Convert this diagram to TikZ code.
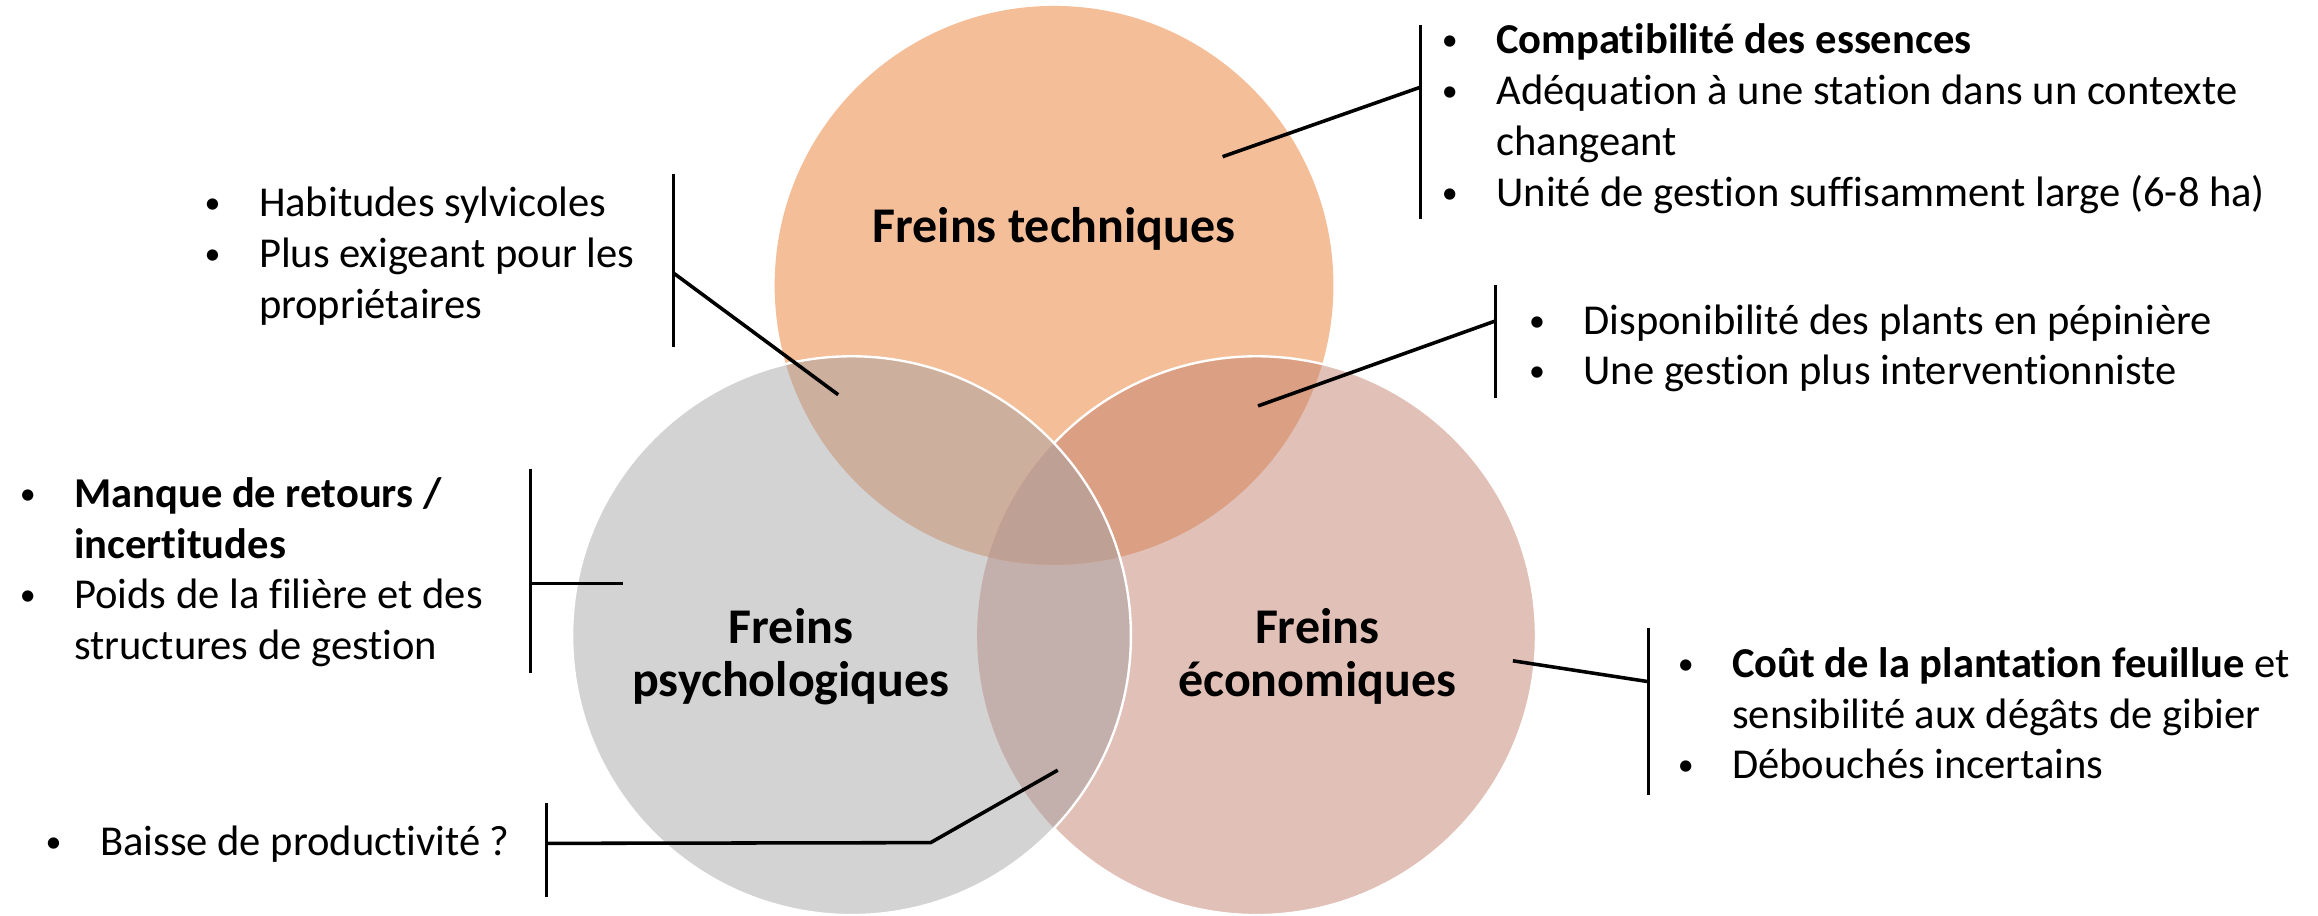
\documentclass[tikz,border=0pt]{standalone}
\usepackage{graphicx}
\usepackage{fontspec}
\setmainfont{Carlito}[Ligatures=NoCommon]
\definecolor{techfill}{HTML}{F4BE98}
\definecolor{psyfill}{HTML}{D3D3D3}
\definecolor{ecofill}{HTML}{E1C0B7}
\definecolor{tpfill}{HTML}{CDAF9E}
\definecolor{tefill}{HTML}{DB9F83}
\definecolor{pefill}{HTML}{C3AFAB}
\definecolor{tpefill}{HTML}{BFA095}
\newcommand{\itm}{\makebox[18.4pt][l]{\raisebox{1pt}{\scalebox{0.75}{\textbullet}}}}
\begin{document}
\begin{tikzpicture}[x=0.5pt, y=-0.5pt,
    disc/.style={circle, minimum size=189pt, inner sep=0pt},
    title/.style={font=\fontsize{16.9}{18}\selectfont\bfseries, align=center, inner sep=0pt},
    items/.style={font=\fontsize{14.4}{17.2}\selectfont, inner sep=0pt, anchor=north west},
    bar/.style={line width=1pt},
    link/.style={line width=1.2pt}]
    \useasboundingbox (0,0) rectangle (1568,619);

    % --- The three discs ---
    \node[disc, fill=techfill] (tech) at (713,193) {};
    \node[disc, fill=psyfill] (psy) at (576,430) {};
    \node[disc, fill=ecofill] (eco) at (850,430) {};

    % --- Overlaps ---
    \begin{scope}
        \clip (psy.center) circle (189);
        \fill[pefill] (eco.center) circle (189);
    \end{scope}
    \begin{scope}
        \clip (tech.center) circle (189);
        \fill[tpfill] (psy.center) circle (189);
        \fill[tefill] (eco.center) circle (189);
        \clip (psy.center) circle (189);
        \fill[tpefill] (eco.center) circle (189);
    \end{scope}

    % --- White rims ---
    \begin{scope}[even odd rule]
        \clip (0,0) rectangle (1568,619) (psy.center) circle (189);
        \draw[white, line width=0.8pt] (eco.center) circle (189);
    \end{scope}
    \draw[white, line width=0.8pt] (psy.center) circle (189);

    % --- Titles ---
    \node[title, anchor=base] (ttech) at (713,164) {Freins techniques};
    \node[title] (tpsy) at (535,444) {Freins\\psychologiques};
    \node[title] (teco) at (891,444) {Freins\\économiques};

    % --- Lists ---
    \node[items] (ltech) at (975,12) {\begin{tabular}{@{}l@{}l@{}}
        \itm & \textbf{Compatibilité des essences}\\
        \itm & Adéquation à une station dans un contexte\\
             & changeant\\
        \itm & Unité de gestion suffisamment large (6-8 ha)
    \end{tabular}};
    \node[items] (ltp) at (138,122) {\begin{tabular}{@{}l@{}l@{}}
        \itm & Habitudes sylvicoles\\
        \itm & Plus exigeant pour les\\
             & propriétaires
    \end{tabular}};
    \node[items] (lte) at (1034,201.5) {\begin{tabular}{@{}l@{}l@{}}
        \itm & Disponibilité des plants en pépinière\\
        \itm & Une gestion plus interventionniste
    \end{tabular}};
    \node[items] (lpsy) at (13,318.6) {\begin{tabular}{@{}l@{}l@{}}
        \itm & \textbf{Manque de retours /}\\
             & \textbf{incertitudes}\\
        \itm & Poids de la filière et des\\
             & structures de gestion
    \end{tabular}};
    \node[items] (lbas) at (30.5,554.3) {\begin{tabular}{@{}l@{}l@{}}
        \itm & Baisse de productivité ?
    \end{tabular}};
    \node[items] (leco) at (1134.5,433.6) {\begin{tabular}{@{}l@{}l@{}}
        \itm & \textbf{Coût de la plantation feuillue} et\\
             & sensibilité aux dégâts de gibier\\
        \itm & Débouchés incertains
    \end{tabular}};

    % --- Brackets ---
    \coordinate (btech1) at (960.8,17);   \coordinate (btech2) at (960.8,148);
    \coordinate (btp1) at (455.3,118);    \coordinate (btp2) at (455.3,235);
    \coordinate (bte1) at (1011.3,193);   \coordinate (bte2) at (1011.3,269);
    \coordinate (bpsy1) at (358.7,317);   \coordinate (bpsy2) at (358.7,455);
    \coordinate (bbas1) at (369.8,543.5); \coordinate (bbas2) at (369.8,606.5);
    \coordinate (beco1) at (1115,425);    \coordinate (beco2) at (1115,538);
    \draw[bar] (btech1) -- (btech2);
    \draw[bar] (btp1) -- (btp2);
    \draw[bar] (bte1) -- (bte2);
    \draw[bar] (bpsy1) -- (bpsy2);
    \draw[bar] (bbas1) -- (bbas2);
    \draw[bar] (beco1) -- (beco2);

    % --- Leaders ---
    \coordinate (ptech) at (827,106);   \coordinate (qtech) at (960.8,59);
    \coordinate (ptp) at (567,267);     \coordinate (qtp) at (455.3,184.5);
    \coordinate (pte) at (851,274.6);   \coordinate (qte) at (1011.3,217.2);
    \coordinate (ppsy) at (421.3,394.6); \coordinate (qpsy) at (358.7,394.6);
    \coordinate (pbas) at (715.5,521);  \coordinate (kbas) at (629.5,570); \coordinate (qbas) at (369.8,570.5);
    \coordinate (peco) at (1023.4,447); \coordinate (qeco) at (1115,461.1);
    \draw[link] (ptech) -- (qtech);
    \draw[link] (ptp) -- (qtp);
    \draw[link] (pte) -- (qte);
    \draw[link] (ppsy) -- (qpsy);
    \draw[link] (pbas) -- (kbas) -- (qbas);
    \draw[link] (peco) -- (qeco);
\end{tikzpicture}
\end{document}
